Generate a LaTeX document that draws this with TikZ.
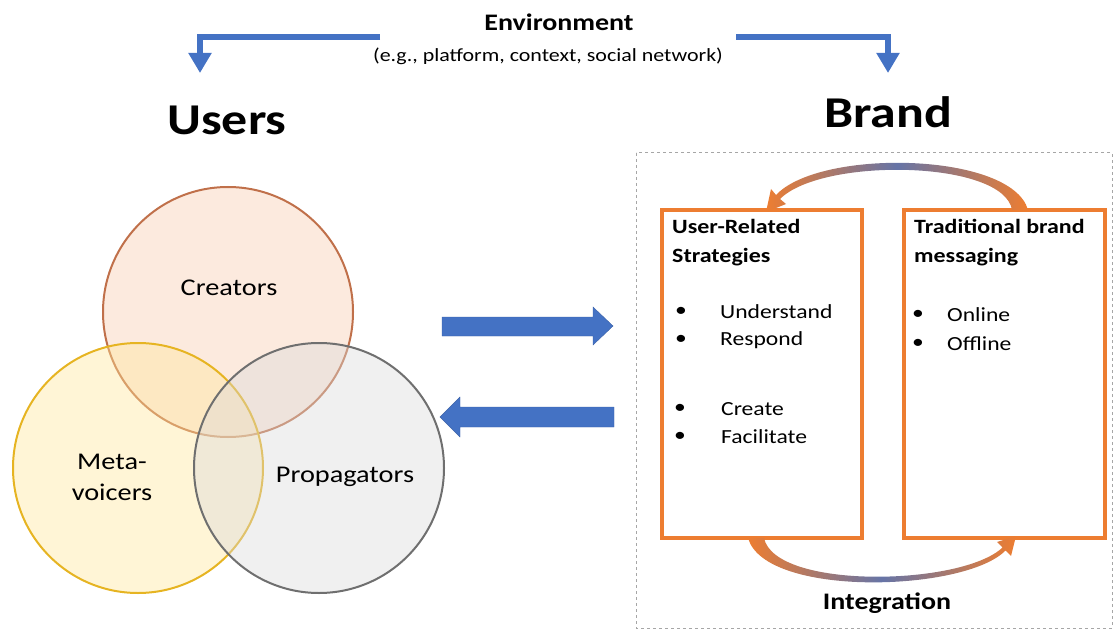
\documentclass[tikz,border=0pt]{standalone}
\usepackage{fontspec}
\setmainfont{Carlito}[FakeStretch=1.18]
\usetikzlibrary{arrows.meta,shapes.geometric}
\definecolor{ablue}{HTML}{4472C4}
\definecolor{aorange}{HTML}{ED7D31}
\definecolor{crfill}{HTML}{F8CBAD}
\definecolor{crdraw}{HTML}{C0704A}
\definecolor{mvfill}{HTML}{FFE699}
\definecolor{mvdraw}{HTML}{E6B422}
\definecolor{prfill}{HTML}{D9D9D9}
\definecolor{prdraw}{HTML}{6F6F6F}
\tikzset{
  venn/.style={circle, minimum size=250pt, inner sep=0pt, line width=2pt, fill opacity=0.4, draw opacity=1},
  vlabel/.style={font=\fontsize{24}{31}\selectfont, align=center, text opacity=1},
  bigtitle/.style={font=\fontsize{44}{50}\selectfont\bfseries},
  obox/.style={draw=aorange, line width=3.2pt},
  boxhead/.style={font=\fontsize{20.3}{29}\selectfont\bfseries, anchor=west, align=left, inner sep=0pt},
  item/.style={font=\fontsize{20}{22}\selectfont, anchor=west, inner sep=0pt},
  bullet/.style={font=\fontsize{20}{22}\selectfont, anchor=center, inner sep=0pt},
  envline/.style={draw=ablue, line width=6.5pt, -{Triangle[width=22pt,length=20pt]}},
  blockarrow/.style={fill=ablue, draw=ablue!85!black, line width=0.4pt},
  curvedarrow/.style={left color=aorange, right color=aorange, middle color=ablue!80!aorange, draw=none}
}
\begin{document}
\begin{tikzpicture}[x=1pt,y=-1pt]
\useasboundingbox (0,0) rectangle (1114,631);

% Titles
\node[font=\fontsize{23.7}{26}\selectfont\bfseries] (env) at (559,22) {Environment};
\node[font=\fontsize{18.6}{20}\selectfont] (envsub) at (548,56) {(e.g., platform, context, social network)};
\node[bigtitle] (users) at (227,120) {Users};
\node[bigtitle] (brand) at (888,112) {Brand};

% Environment arrows
\coordinate (el1) at (380,37);
\coordinate (el2) at (200,37);
\coordinate (el3) at (200,73);
\coordinate (er1) at (736,37);
\coordinate (er2) at (888,37);
\coordinate (er3) at (888,73);
\draw[envline] (el1) -- (el2) -- (el3);
\draw[envline] (er1) -- (er2) -- (er3);

% Venn circles
\node[venn, fill=crfill, draw=crdraw] (creators) at (228,312) {};
\node[venn, fill=mvfill, draw=mvdraw] (meta) at (138,468) {};
\node[venn, fill=prfill, draw=prdraw] (prop) at (319,468) {};
\node[vlabel] (tcreators) at (229,288) {Creators};
\node[vlabel] (tmeta) at (112,477) {Meta-\\voicers};
\node[vlabel] (tprop) at (345,477) {Propagators};

% Middle block arrows
\draw[blockarrow] (442,317) -- (593,317) -- (593,307) -- (613,326) -- (593,345) -- (593,336) -- (442,336) -- cycle;
\draw[blockarrow] (614,407) -- (460,407) -- (460,397) -- (440,417) -- (460,437) -- (460,427) -- (614,427) -- cycle;

% Brand dashed box
\draw[gray!70, dashed, line width=1pt] (636,153) rectangle (1112,628);

% Orange boxes
\draw[obox] (662,210) rectangle (862,538);
\draw[obox] (904,210) rectangle (1105,538);

\node[boxhead] (urs) at (672,243) {User-Related\\Strategies};
\node[boxhead] (tbm) at (914,243) {Traditional brand\\messaging};

\node[bullet] (b1) at (681,312) {•};
\node[item] (i1) at (720,312) {Understand};
\node[bullet] (b2) at (681,340) {•};
\node[item] (i2) at (720,340) {Respond};
\node[bullet] (b3) at (680,409) {•};
\node[item] (i3) at (721,409) {Create};
\node[bullet] (b4) at (680,437) {•};
\node[item] (i4) at (721,437) {Facilitate};

\node[bullet] (b5) at (918,315) {•};
\node[item] (i5) at (947,315) {Online};
\node[bullet] (b6) at (918,344) {•};
\node[item] (i6) at (947,344) {Offline};

% Curved arrows
\path[curvedarrow] (1028,210) .. controls (1012,152) and (820,148) .. (776,195) -- (771,189) -- (766,212) -- (786,204) -- (780,199) .. controls (822,157) and (1004,160) .. (1012,210) -- cycle;
\path[curvedarrow] (748,538) .. controls (765,598) and (965,592) .. (1005.5,550.5) -- (1011,556) -- (1016,536) -- (997,542) -- (1002.5,547.5) .. controls (962,586) and (775,590) .. (764,538) -- cycle;

\node[font=\fontsize{23.7}{26}\selectfont\bfseries] (integ) at (887,603) {Integration};
\end{tikzpicture}
\end{document}
